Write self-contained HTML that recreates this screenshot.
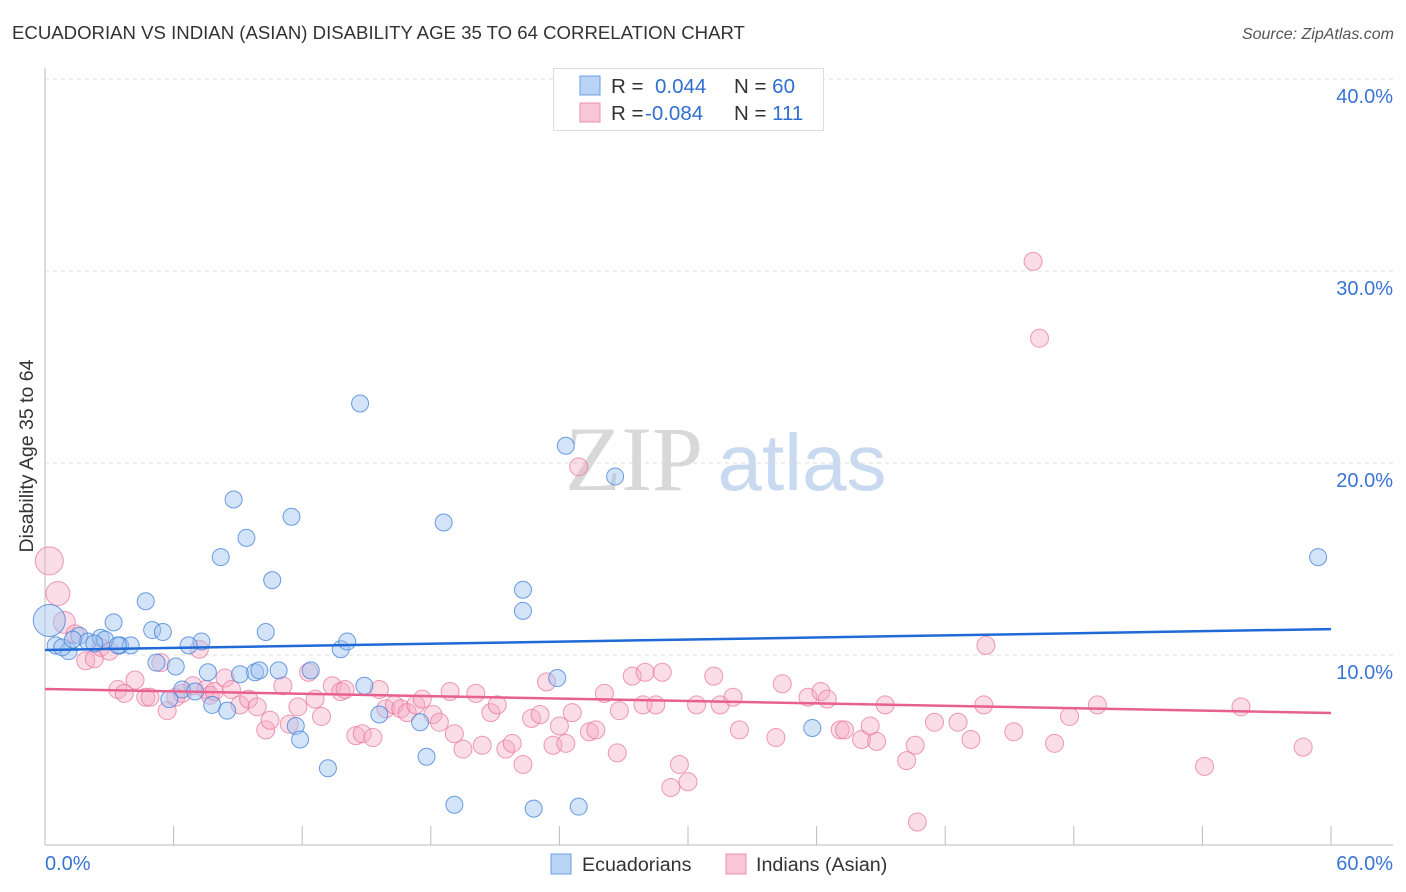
<!DOCTYPE html>
<html><head><meta charset="utf-8"><style>
body{margin:0;background:#fff;font-family:"Liberation Sans",sans-serif}
svg{display:block}
</style></head><body>
<svg id="chart" width="1406" height="892">
<text x="12" y="39" font-size="18.6" fill="#333">ECUADORIAN VS INDIAN (ASIAN) DISABILITY AGE 35 TO 64 CORRELATION CHART</text>
<text x="1394" y="39" font-size="16" fill="#555" font-style="italic" text-anchor="end">Source: ZipAtlas.com</text>
<g>
<text x="634" y="490" font-size="92" font-family="Liberation Serif,serif" fill="#d8d8d8" text-anchor="middle">ZIP</text>
<text x="802" y="490" font-size="80" fill="#c9daf0" text-anchor="middle">atlas</text>
</g>
<g id="grid"></g>
<g id="axes"></g>
<g id="marks"></g>
<g>
<rect x="553.5" y="68.5" width="270" height="62" fill="#fff" stroke="#ddd"/>
<rect x="580" y="76" width="20" height="19" fill="#b9d3f4" stroke="#6d9fe0"/>
<rect x="580" y="103" width="20" height="19" fill="#f9c6d5" stroke="#ea8fae"/>
<text x="611" y="93" font-size="20.5" fill="#333">R = <tspan fill="#2f6fd0" x="655">0.044</tspan><tspan x="734" fill="#333">N = </tspan><tspan fill="#2f6fd0">60</tspan></text>
<text x="611" y="120" font-size="20.5" fill="#333">R = <tspan fill="#2f6fd0" x="645">-0.084</tspan><tspan x="734" fill="#333">N = </tspan><tspan fill="#2f6fd0">111</tspan></text>
</g>
<g>
<rect x="551" y="854" width="20" height="20" fill="#b9d3f4" stroke="#6d9fe0"/>
<text x="582" y="871" font-size="19.7" fill="#333">Ecuadorians</text>
<rect x="726" y="854" width="20" height="20" fill="#f9c6d5" stroke="#ea8fae"/>
<text x="756" y="871" font-size="19.7" fill="#333">Indians (Asian)</text>
</g>
<text transform="translate(33,456) rotate(-90)" font-size="19.5" fill="#333" text-anchor="middle">Disability Age 35 to 64</text>
</svg>
<script>
const yTicks=[10,20,30,40];
const yTickLabels=["10.0%","20.0%","30.0%","40.0%"];
const xTicks=[0,6,12,18,24,30,36,42,48,54,60];
const xEndLabels=["0.0%","60.0%"];
const ecuX=[0.2,0.5,1.1,0.8,1.6,2.0,2.6,2.8,3.2,3.5,4.0,4.7,5.0,5.5,5.2,6.1,6.4,7.0,7.3,6.7,7.6,7.8,8.5,8.2,8.8,9.4,9.1,9.8,10.0,10.3,10.6,10.9,11.5,11.7,11.9,12.4,13.2,13.8,14.1,14.7,14.9,15.6,17.5,17.8,18.6,19.1,22.3,22.3,22.8,23.9,24.3,24.9,26.6,35.8,59.4,1.3,2.3,3.4,5.8];
const ecuY=[11.8,10.5,10.2,10.4,11.0,10.7,10.9,10.8,11.7,10.5,10.5,12.8,11.3,11.2,9.6,9.4,8.2,8.1,10.7,10.5,9.1,7.4,7.1,15.1,18.1,16.1,9.0,9.1,9.2,11.2,13.9,9.2,17.2,6.3,5.6,9.2,4.1,10.3,10.7,23.1,8.4,6.9,6.5,4.7,16.9,2.2,13.4,12.3,2.0,8.8,20.9,2.1,19.3,6.2,15.1,10.8,10.6,10.5,7.7];
const indX=[0.2,0.6,0.9,1.4,1.9,2.3,2.6,3.0,3.4,3.7,4.2,4.7,4.9,5.4,5.7,6.1,6.4,6.9,7.2,7.5,7.7,7.9,8.4,8.7,9.1,9.5,9.9,10.3,10.5,11.1,11.4,11.8,12.3,12.6,12.9,13.4,13.8,14.0,14.5,14.8,15.3,15.6,15.9,16.3,16.6,16.9,17.3,17.6,18.1,18.4,18.9,19.1,19.5,20.1,20.4,20.8,21.1,21.5,21.8,22.3,22.7,23.1,23.4,23.7,24.0,24.3,24.6,25.4,25.7,26.1,26.7,26.8,27.4,28.0,27.9,28.5,28.8,29.2,29.6,30.0,30.4,31.2,31.5,32.1,32.4,34.1,34.4,35.6,36.2,36.5,37.1,37.3,38.1,38.5,38.8,39.2,40.2,40.6,40.7,41.5,42.6,43.2,43.8,43.9,45.2,46.1,46.4,47.1,47.8,49.1,54.1,55.8,58.7,24.9];
const indY=[14.9,13.2,11.7,11.1,9.7,9.8,10.4,10.2,8.2,8.0,8.7,7.8,7.8,9.6,7.1,7.8,8.0,8.4,10.3,8.2,7.9,8.1,8.8,8.2,7.4,7.7,7.3,6.1,6.6,8.4,6.4,7.3,9.1,7.7,6.8,8.4,8.1,8.2,5.8,5.9,5.7,8.2,7.2,7.4,7.2,7.0,7.4,7.7,6.9,6.5,8.1,5.9,5.1,8.0,5.3,7.0,7.4,5.1,5.4,4.3,6.7,6.9,8.6,5.3,6.3,5.4,7.0,6.0,6.1,8.0,4.9,7.1,8.9,9.1,7.4,7.4,9.1,3.1,4.3,3.4,7.4,8.9,7.4,7.8,6.1,5.7,8.5,7.8,8.1,7.7,6.1,6.1,5.6,6.3,5.5,7.4,4.5,5.3,1.3,6.5,6.5,5.6,7.4,10.5,6.0,30.5,26.5,5.4,6.8,7.4,4.2,7.3,5.2,19.8];
const ecuBig=[16];
const indBig=[14,12,11];
const ecuTrend=[10.26,11.35];
const indTrend=[8.23,6.98];

const NS="http://www.w3.org/2000/svg";
const X0=45,X1=1331,Y0=847,PY=19.2;
const xs=v=>X0+(v/60)*(X1-X0);
const ys=v=>Y0-v*PY;
function mk(tag,attrs,parent){const e=document.createElementNS(NS,tag);for(const k in attrs)e.setAttribute(k,attrs[k]);parent.appendChild(e);return e;}
const grid=document.getElementById('grid'),axes=document.getElementById('axes'),marks=document.getElementById('marks');
yTicks.forEach((t,i)=>{
 const l=mk('line',{x1:45,x2:1393,y1:ys(t),y2:ys(t),stroke:'#ddd','stroke-dasharray':'4,4'},grid);
 
 
 const tx=mk('text',{x:1393,y:ys(t)+24,'font-size':20,fill:'#3a74d4','text-anchor':'end'},axes);
 tx.textContent=yTickLabels[i];
 
 
});
let a=mk('line',{x1:45,x2:45,y1:68,y2:845,stroke:'#bbb'},axes);


a=mk('line',{x1:45,x2:1393,y1:845,y2:845,stroke:'#bbb'},axes);


xTicks.forEach(t=>{
 const l=mk('line',{x1:xs(t),x2:xs(t),y1:826,y2:845,stroke:'#bbb'},axes);
 
 
});
let t1=mk('text',{x:45,y:870,'font-size':20,fill:'#3a74d4'},axes);t1.textContent=xEndLabels[0];


let t2=mk('text',{x:1393,y:870,'font-size':20,fill:'#3a74d4','text-anchor':'end'},axes);t2.textContent=xEndLabels[1];



indX.forEach((v,i)=>{
 const c=mk('circle',{cx:xs(v),cy:ys(indY[i]),r:indBig[i]||9,fill:'rgba(246,170,195,0.4)',stroke:'rgba(232,120,158,0.75)','stroke-width':1},marks);
 
 
});
ecuX.forEach((v,i)=>{
 const c=mk('circle',{cx:xs(v),cy:ys(ecuY[i]),r:ecuBig[i]||8.5,fill:'rgba(160,196,240,0.45)',stroke:'rgba(60,125,215,0.75)','stroke-width':1},marks);
 
 
});
let tl=mk('line',{x1:xs(0),x2:xs(60),y1:ys(ecuTrend[0]),y2:ys(ecuTrend[1]),stroke:'#1f6ad6','stroke-width':2.5},marks);


tl=mk('line',{x1:xs(0),x2:xs(60),y1:ys(indTrend[0]),y2:ys(indTrend[1]),stroke:'#e8608f','stroke-width':2.5},marks);


</script>
</body></html>
